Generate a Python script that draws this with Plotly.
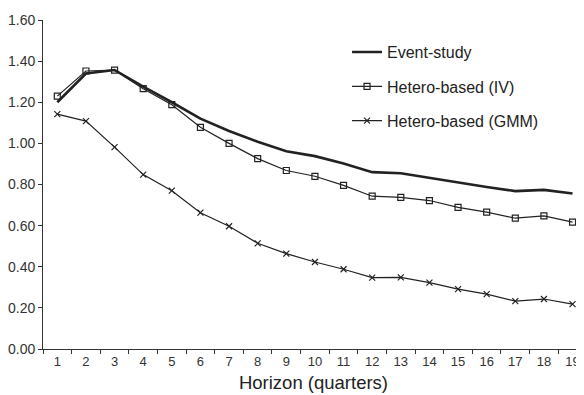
import plotly.graph_objects as go

horizon = [str(i) for i in range(1, 20)]
event_study = [1.20, 1.34, 1.357, 1.276, 1.20, 1.12, 1.06, 1.008, 0.962, 0.938, 0.902, 0.860, 0.855, 0.832, 0.808, 0.788, 0.768, 0.774, 0.756]
hetero_iv = [1.230, 1.352, 1.356, 1.266, 1.188, 1.078, 1.000, 0.926, 0.868, 0.840, 0.796, 0.743, 0.737, 0.722, 0.689, 0.666, 0.636, 0.647, 0.617]
hetero_gmm = [1.142, 1.108, 0.982, 0.848, 0.770, 0.663, 0.597, 0.514, 0.464, 0.423, 0.388, 0.347, 0.348, 0.323, 0.291, 0.267, 0.233, 0.243, 0.218]

series_names = ["Event-study", "Hetero-based (IV)", "Hetero-based (GMM)"]
y_ticks = [0.0, 0.2, 0.4, 0.6, 0.8, 1.0, 1.2, 1.4, 1.6]

ink = "#222222"
fig = go.Figure()
fig.add_trace(go.Scatter(x=horizon, y=event_study, name=series_names[0], mode="lines",
                         line=dict(color=ink, width=2.6), legendgroup="a"))
fig.add_trace(go.Scatter(x=horizon, y=hetero_iv, name=series_names[1], mode="lines+markers",
                         line=dict(color=ink, width=1.2),
                         marker=dict(symbol="square-open", size=6, color=ink, line=dict(width=1.2)),
                         legendgroup="b"))
fig.add_trace(go.Scatter(x=horizon, y=hetero_gmm, name=series_names[2], mode="lines+markers",
                         line=dict(color=ink, width=1.2),
                         marker=dict(symbol="x-thin-open", size=6, color=ink, line=dict(width=1.2)),
                         legendgroup="c"))

fig.update_layout(
    width=576, height=387,
    margin=dict(l=35, r=0, t=12, b=46),
    paper_bgcolor="white", plot_bgcolor="white",
    font=dict(family="Liberation Sans, Arial, sans-serif", color="#333333", size=12),
    legend=dict(x=0.562, y=0.954, xanchor="left", yanchor="top",
                font=dict(size=16, color="#222222"), bgcolor="rgba(0,0,0,0)",
                traceorder="grouped", tracegroupgap=10.5, itemwidth=30),
    xaxis=dict(type="category", range=[-0.5, 18.4], tickson="boundaries",
               ticks="outside", ticklen=4, tickcolor="#333333", automargin=False,
               showline=True, linecolor="#333333", linewidth=1, showgrid=False,
               tickfont=dict(size=13, color="#333333"),
               title=dict(text="Horizon (quarters)", font=dict(size=18.5, color="#222222"), standoff=8)),
    yaxis=dict(range=[0, 1.6], tickvals=y_ticks, tickformat=".2f", automargin=False,
               ticks="outside", ticklen=4, tickcolor="#333333",
               showline=True, linecolor="#333333", linewidth=1, showgrid=False, zeroline=False,
               tickfont=dict(size=14, color="#333333")),
)

fig.write_html("out.html")
